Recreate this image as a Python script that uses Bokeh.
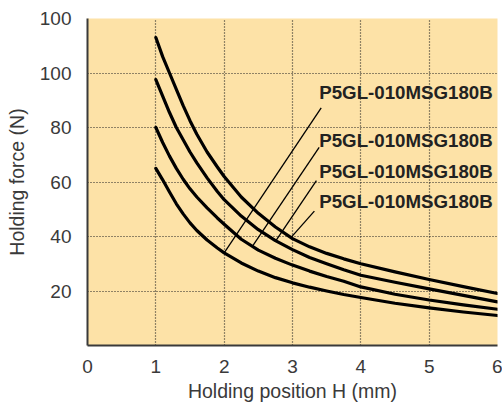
from bokeh.plotting import figure
from bokeh.models import FixedTicker, ColumnDataSource, Range1d
from bokeh.core.properties import value
from bokeh.embed import file_html
from bokeh.resources import INLINE

# ---- data ----
pos = [1.0, 1.1, 1.2, 1.3, 1.4, 1.5, 1.6, 1.75, 1.9, 2.0, 2.25, 2.5, 2.75,
       3.0, 3.25, 3.5, 3.75, 4.0, 4.5, 5.0, 5.5, 6.0]
force_a = [113, 106, 100, 94, 88, 82.5, 77.5, 71, 65.5, 62, 54.5, 48.5, 43.5,
           39.2, 36.2, 33.8, 31.8, 30, 27, 24.2, 21.6, 19.1]
force_b = [97.6, 91.5, 85.5, 80, 75.5, 71, 67, 61.5, 56.5, 53.5, 47.5, 42.5, 38.5,
           35.2, 32.3, 30, 27.8, 25.8, 23.2, 20.8, 18.4, 16]
force_c = [80, 74.5, 69.5, 65, 61, 57.5, 54.5, 50.5, 46.8, 44.5, 39, 35, 32,
           29.5, 27.3, 25.3, 23.6, 21.5, 18.8, 16.7, 14.9, 13.3]
force_d = [65, 60.8, 56.3, 52, 48.3, 45, 42.2, 38.7, 35.8, 34, 30.3, 27.3, 24.9,
           23, 21.4, 20, 18.7, 17.6, 15.5, 13.8, 12.3, 11]

labels = ["P5GL-010MSG180B"] * 4
label_x = [5.93, 5.93, 5.93, 5.93]
label_y = [92.8, 75.2, 63.9, 52.8]
leader_x0 = [3.42, 3.39, 3.35, 3.32]
leader_y0 = [87.2, 72.7, 60.5, 49.3]
leader_x1 = [2.0, 2.41, 2.75, 2.97]
leader_y1 = [34.0, 36.3, 38.2, 39.4]

x_ticks = [0, 1, 2, 3, 4, 5, 6]
y_ticks = [20, 40, 60, 80, 100, 120]
y_tick_labels = {20: "20", 40: "40", 60: "60", 80: "80", 100: "100", 120: "100"}

FONT = "Liberation Sans"
TXT = "#3a3a3a"

p = figure(width=502, height=402, output_backend="svg", toolbar_location=None,
           x_range=Range1d(0, 6), y_range=Range1d(0, 120),
           min_border_left=87, min_border_right=5, min_border_top=18, min_border_bottom=57)
p.frame_width = 410
p.frame_height = 327
p.background_fill_color = "#FDE2A7"
p.border_fill_color = "white"
p.outline_line_color = None

# grid
p.xgrid.ticker = FixedTicker(ticks=[1, 2, 3, 4, 5, 6])
p.ygrid.ticker = FixedTicker(ticks=[20, 40, 60, 80, 100, 120])
for g in (p.xgrid, p.ygrid):
    g.grid_line_color = "#222222"
    g.grid_line_dash = "1 2"
    g.grid_line_width = 1.2

# axes
p.xaxis.ticker = FixedTicker(ticks=x_ticks)
p.yaxis.ticker = FixedTicker(ticks=y_ticks)
p.yaxis.major_label_overrides = y_tick_labels
for ax in (p.xaxis, p.yaxis):
    ax.axis_line_color = "#3a3a3a"
    ax.axis_line_width = 2
    ax.major_tick_line_color = None
    ax.minor_tick_line_color = None
    ax.major_label_text_font = FONT
    ax.major_label_text_font_size = "19px"
    ax.major_label_text_color = TXT
    ax.axis_label_text_font = FONT
    ax.axis_label_text_font_size = "19.5px"
    ax.axis_label_text_color = TXT
    ax.axis_label_text_font_style = "normal"
p.xaxis.axis_label = "Holding position H (mm)"
p.yaxis.axis_label = "Holding force (N)"
p.xaxis.major_label_standoff = 8
p.xaxis.axis_label_standoff = 4
p.yaxis.major_label_standoff = 10
p.yaxis.axis_label_standoff = 9

# curves
for f in (force_a, force_b, force_c, force_d):
    p.line(pos, f, line_color="black", line_width=3.2, line_join="round", line_cap="round")

# leaders
p.segment(x0=leader_x0, y0=leader_y0, x1=leader_x1, y1=leader_y1,
          line_color="black", line_width=1.3)

# labels
src = ColumnDataSource(dict(x=label_x, y=label_y, t=labels))
p.text(x="x", y="y", text="t", source=src, text_align="right", text_baseline="middle",
       text_font=value(FONT), text_font_style="bold", text_font_size="18.7px",
       text_color="#222222")

open("out.html", "w").write(file_html(p, INLINE))
